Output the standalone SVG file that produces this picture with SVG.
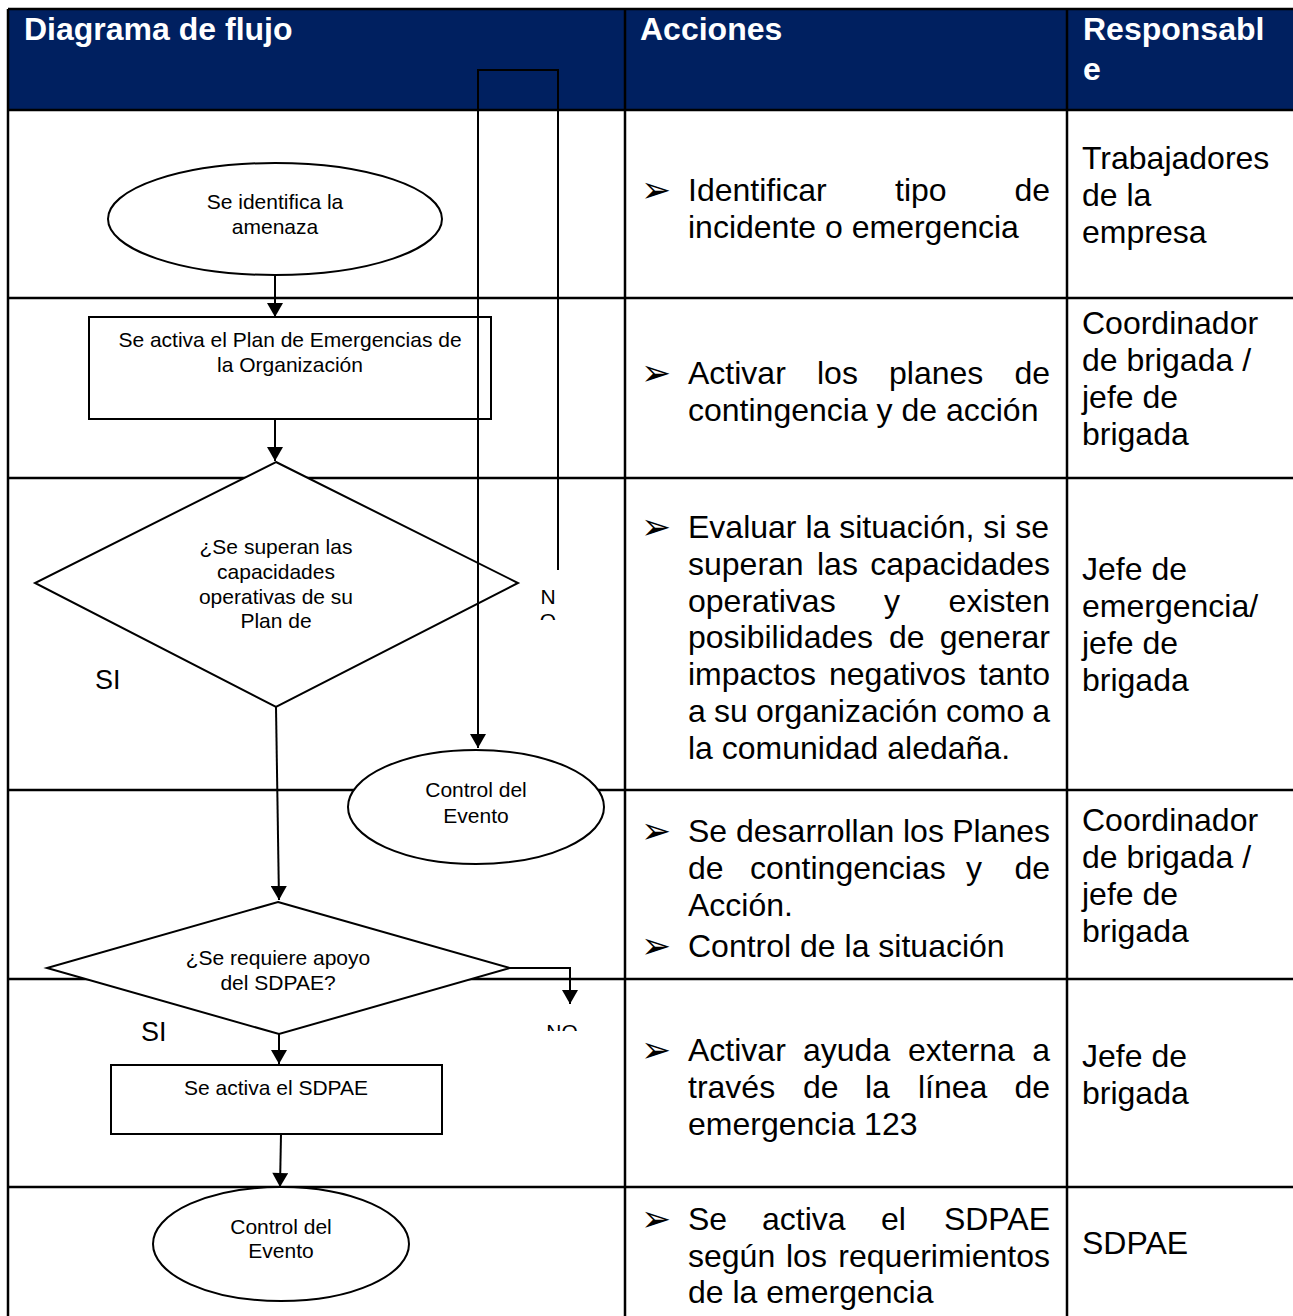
<svg xmlns="http://www.w3.org/2000/svg" width="1293" height="1316" viewBox="0 0 1293 1316">
<style>
.grid{stroke:#000;stroke-width:2.5;fill:none}
.hd{font-family:"Liberation Sans",Arial,sans-serif;font-weight:bold;font-size:32px;fill:#fff}
.bt{font-family:"Liberation Sans",Arial,sans-serif;font-size:32px;fill:#000}
.bu{font-family:"DejaVu Sans",sans-serif;font-size:36px;fill:#000}
.nt{font-family:"Liberation Sans",Arial,sans-serif;font-size:21px;fill:#000;text-anchor:middle}
.lb{font-family:"Liberation Sans",Arial,sans-serif;font-size:27px;fill:#000}
.shape{fill:#fff;stroke:#000;stroke-width:2}
.conn{fill:none;stroke:#000;stroke-width:2}
</style>
<defs>
<marker id="ah" viewBox="0 0 14 16" refX="14" refY="8" markerWidth="15" markerHeight="16" markerUnits="userSpaceOnUse" orient="auto">
<path d="M0,0 L14,8 L0,16 Z" fill="#000"/>
</marker>
<clipPath id="clipNO1"><rect x="530" y="570" width="40" height="50"/></clipPath>
<clipPath id="clipNO2"><rect x="530" y="1005" width="60" height="26"/></clipPath>
</defs>
<rect width="1293" height="1316" fill="#fff"/>
<g id="table">
<rect x="8" y="9" width="1290" height="101" fill="#002060"/>
<line class="grid" x1="8" y1="9" x2="1293" y2="9"/>
<line class="grid" x1="8" y1="9" x2="8" y2="1316"/>
<line class="grid" x1="625" y1="9" x2="625" y2="1316"/>
<line class="grid" x1="1067" y1="9" x2="1067" y2="1316"/>
<line class="grid" x1="8" y1="110" x2="1293" y2="110"/>
<line class="grid" x1="8" y1="298" x2="1293" y2="298"/>
<line class="grid" x1="8" y1="478" x2="1293" y2="478"/>
<line class="grid" x1="8" y1="790" x2="1293" y2="790"/>
<line class="grid" x1="8" y1="979" x2="1293" y2="979"/>
<line class="grid" x1="8" y1="1187" x2="1293" y2="1187"/>
<text class="hd" x="24" y="40">Diagrama de flujo</text>
<text class="hd" x="640" y="40">Acciones</text>
<text class="hd" x="1083" y="40">Responsabl</text>
<text class="hd" x="1083" y="80">e</text>
</g>
<g id="actions">
<text class="bu" x="641" y="202">➢</text>
<text class="bt" y="201"><tspan x="688">Identificar</tspan><tspan x="895">tipo</tspan><tspan x="1050" text-anchor="end">de</tspan></text>
<text class="bt" x="688" y="238">incidente o emergencia</text>

<text class="bu" x="641" y="385">➢</text>
<text class="bt" y="384"><tspan x="688">Activar</tspan><tspan x="817">los</tspan><tspan x="889">planes</tspan><tspan x="1050" text-anchor="end">de</tspan></text>
<text class="bt" x="688" y="421">contingencia y de acción</text>

<text class="bu" x="641" y="539">➢</text>
<text class="bt" x="688" y="538">Evaluar la situación, si se</text>
<text class="bt" y="575"><tspan x="688">superan</tspan><tspan x="817">las</tspan><tspan x="1050" text-anchor="end">capacidades</tspan></text>
<text class="bt" y="612"><tspan x="688">operativas</tspan><tspan x="884">y</tspan><tspan x="1050" text-anchor="end">existen</tspan></text>
<text class="bt" y="648"><tspan x="688">posibilidades</tspan><tspan x="889">de</tspan><tspan x="1050" text-anchor="end">generar</tspan></text>
<text class="bt" y="685"><tspan x="688">impactos</tspan><tspan x="829">negativos</tspan><tspan x="1050" text-anchor="end">tanto</tspan></text>
<text class="bt" y="722"><tspan x="688">a</tspan><tspan x="714">su</tspan><tspan x="756">organización</tspan><tspan x="946">como</tspan><tspan x="1050" text-anchor="end">a</tspan></text>
<text class="bt" x="688" y="759">la comunidad aledaña.</text>

<text class="bu" x="641" y="843">➢</text>
<text class="bt" y="842"><tspan x="688">Se</tspan><tspan x="736">desarrollan</tspan><tspan x="903">los</tspan><tspan x="1050" text-anchor="end">Planes</tspan></text>
<text class="bt" y="879"><tspan x="688">de</tspan><tspan x="750">contingencias</tspan><tspan x="966">y</tspan><tspan x="1050" text-anchor="end">de</tspan></text>
<text class="bt" x="688" y="916">Acción.</text>
<text class="bu" x="641" y="958">➢</text>
<text class="bt" x="688" y="957">Control de la situación</text>

<text class="bu" x="641" y="1062">➢</text>
<text class="bt" y="1061"><tspan x="688">Activar</tspan><tspan x="803">ayuda</tspan><tspan x="908">externa</tspan><tspan x="1050" text-anchor="end">a</tspan></text>
<text class="bt" y="1098"><tspan x="688">través</tspan><tspan x="803">de</tspan><tspan x="865">la</tspan><tspan x="918">línea</tspan><tspan x="1050" text-anchor="end">de</tspan></text>
<text class="bt" x="688" y="1135">emergencia 123</text>

<text class="bu" x="641" y="1231">➢</text>
<text class="bt" y="1230"><tspan x="688">Se</tspan><tspan x="762">activa</tspan><tspan x="881">el</tspan><tspan x="1050" text-anchor="end">SDPAE</tspan></text>
<text class="bt" y="1267"><tspan x="688">según</tspan><tspan x="786">los</tspan><tspan x="1050" text-anchor="end">requerimientos</tspan></text>
<text class="bt" x="688" y="1303">de la emergencia</text>
</g>
<g id="responsables">
<text class="bt" x="1082" y="169">Trabajadores</text>
<text class="bt" x="1082" y="206">de la</text>
<text class="bt" x="1082" y="243">empresa</text>
<text class="bt" x="1082" y="334">Coordinador</text>
<text class="bt" x="1082" y="371">de brigada /</text>
<text class="bt" x="1082" y="408">jefe de</text>
<text class="bt" x="1082" y="445">brigada</text>
<text class="bt" x="1082" y="580">Jefe de</text>
<text class="bt" x="1082" y="617">emergencia/</text>
<text class="bt" x="1082" y="654">jefe de</text>
<text class="bt" x="1082" y="691">brigada</text>
<text class="bt" x="1082" y="831">Coordinador</text>
<text class="bt" x="1082" y="868">de brigada /</text>
<text class="bt" x="1082" y="905">jefe de</text>
<text class="bt" x="1082" y="942">brigada</text>
<text class="bt" x="1082" y="1067">Jefe de</text>
<text class="bt" x="1082" y="1104">brigada</text>
<text class="bt" x="1082" y="1254">SDPAE</text>
</g>
<g id="n1">
<ellipse class="shape" cx="275" cy="219" rx="167" ry="56"/>
<text class="nt" x="275" y="209">Se identifica la</text>
<text class="nt" x="275" y="234">amenaza</text>
</g>
<g id="n2">
<rect class="shape" x="89" y="317" width="402" height="102"/>
<text class="nt" x="290" y="347">Se activa el Plan de Emergencias de</text>
<text class="nt" x="290" y="372">la Organización</text>
</g>
<g id="n3">
<polygon class="shape" points="276,462 518,583 276,707 35,583"/>
<text class="nt" x="276" y="554">¿Se superan las</text>
<text class="nt" x="276" y="579">capacidades</text>
<text class="nt" x="276" y="604">operativas de su</text>
<text class="nt" x="276" y="628">Plan de</text>
</g>
<g id="n4">
<ellipse class="shape" cx="476" cy="807" rx="128" ry="57"/>
<text class="nt" x="476" y="797">Control del</text>
<text class="nt" x="476" y="823">Evento</text>
</g>
<g id="n5">
<polygon class="shape" points="278,902 510,968 279,1034 47,968"/>
<text class="nt" x="278" y="965">¿Se requiere apoyo</text>
<text class="nt" x="278" y="990">del SDPAE?</text>
</g>
<g id="n6">
<rect class="shape" x="111" y="1065" width="331" height="69"/>
<text class="nt" x="276" y="1095">Se activa el SDPAE</text>
</g>
<g id="n7">
<ellipse class="shape" cx="281" cy="1244" rx="128" ry="57"/>
<text class="nt" x="281" y="1234">Control del</text>
<text class="nt" x="281" y="1258">Evento</text>
</g>
<g id="connectors">
<line class="conn" x1="275" y1="275" x2="275" y2="317" marker-end="url(#ah)"/>
<line class="conn" x1="275" y1="419" x2="275" y2="461" marker-end="url(#ah)"/>
<polyline class="conn" points="558,570 558,70 478,70 478,748" marker-end="url(#ah)"/>
<line class="conn" x1="276" y1="707" x2="279" y2="900" marker-end="url(#ah)"/>
<polyline class="conn" points="510,968 570,968 570,1004" marker-end="url(#ah)"/>
<line class="conn" x1="279" y1="1034" x2="279" y2="1064" marker-end="url(#ah)"/>
<line class="conn" x1="281" y1="1134" x2="280" y2="1187" marker-end="url(#ah)"/>
<text class="lb" x="95" y="689">SI</text>
<text class="lb" x="141" y="1041">SI</text>
<g clip-path="url(#clipNO1)">
<text class="nt" x="548" y="604">N</text>
<text class="nt" x="548" y="628">O</text>
</g>
<g clip-path="url(#clipNO2)">
<text class="nt" x="562" y="1039">NO</text>
</g>
</g>
</svg>
